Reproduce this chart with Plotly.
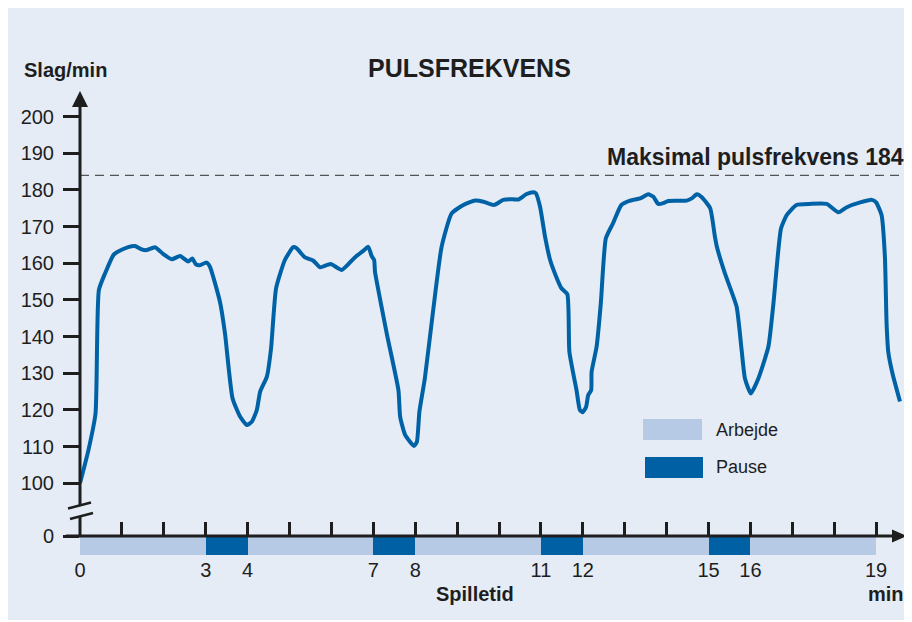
import plotly.graph_objects as go

# Pulse curve (minutes, beats per minute)
TIME_MIN = [0, 0.2, 0.37, 0.45, 0.6, 0.8, 0.91, 1.15, 1.31, 1.47, 1.59, 1.79, 1.99, 2.19,
            2.39, 2.58, 2.68, 2.76, 2.86, 3.02, 3.1, 3.34, 3.46, 3.64, 3.82, 3.98, 4.1,
            4.22, 4.3, 4.46, 4.56, 4.68, 4.89, 5.09, 5.17, 5.37, 5.57, 5.73, 5.98, 6.25,
            6.56, 6.76, 6.88, 6.96, 7.02, 7.04, 7.12, 7.32, 7.6, 7.64, 7.76, 7.97, 8.04,
            8.1, 8.23, 8.43, 8.63, 8.87, 9.15, 9.43, 9.63, 9.88, 10.1, 10.26, 10.46, 10.66,
            10.82, 10.88, 10.98, 11.1, 11.22, 11.36, 11.49, 11.63, 11.68, 11.85, 11.93,
            12.0, 12.08, 12.13, 12.2, 12.21, 12.33, 12.43, 12.55, 12.72, 12.92, 13.13,
            13.37, 13.56, 13.68, 13.8, 13.92, 14.04, 14.48, 14.6, 14.72, 14.84, 15.04,
            15.15, 15.2, 15.39, 15.67, 15.79, 15.87, 16.01, 16.19, 16.43, 16.55, 16.73,
            16.87, 17.1, 17.42, 17.82, 18.1, 18.3, 18.62, 18.9, 19.0, 19.13, 19.21, 19.25,
            19.29, 19.39, 19.57]
PULS = [100, 109, 119, 152.7, 157.3, 162.3, 163.2, 164.4, 164.7, 163.8, 163.6, 164.4, 162.5,
        161.1, 162, 160.5, 161.3, 159.8, 159.5, 160.2, 159.1, 149.5, 140.9, 123.2, 118.2,
        115.9, 116.8, 120, 125, 129.1, 136.8, 153.2, 160.9, 164.4, 164.1, 161.6, 160.7,
        158.9, 159.8, 158.2, 161.6, 163.4, 164.5, 162, 160.9, 157.7, 152.7, 140.9, 125.4,
        118.2, 113.2, 110.2, 111.3, 119.5, 128.6, 147.3, 164.5, 173.6, 175.9, 177.1, 176.8,
        175.9, 177.3, 177.5, 177.4, 178.9, 179.4, 179.1, 175.4, 167.2, 160.9, 156.5, 153.2,
        151.6, 135.9, 125.4, 120, 119.4, 120.9, 124.1, 125.4, 130.4, 137.3, 149.1, 166.8,
        170.9, 175.9, 177.1, 177.7, 178.8, 178.2, 176.2, 176.4, 177, 177.1, 177.7, 178.8,
        178, 175, 167.5, 164.5, 157.3, 148.2, 136.4, 128.6, 124.5, 128.6, 137.3, 149.1,
        169.5, 173.2, 175.9, 176.2, 176.2, 173.9, 175.3, 176.6, 177.3, 176.6, 173.2, 161.8,
        143.6, 135.9, 130, 122.3]

MAX_PULS = 184

# Work / pause phases along the playing time
PHASE_START = [0, 3, 4, 7, 8, 11, 12, 15, 16]
PHASE_END = [3, 4, 7, 8, 11, 12, 15, 16, 19]
PHASE_KIND = ["Arbejde", "Pause", "Arbejde", "Pause", "Arbejde", "Pause", "Arbejde", "Pause", "Arbejde"]

X_TICKS = list(range(0, 20))
X_TICK_LABELS = ["0", "", "", "3", "4", "", "", "7", "8", "", "", "11", "12", "", "", "15", "16", "", "", "19"]
Y_TICKS = [100, 110, 120, 130, 140, 150, 160, 170, 180, 190, 200]

# broken axis: the "0" baseline is drawn just under 100
Y_ZERO = 85.63
BAR_TOP, BAR_BOTTOM = 85.36, 80.45

FONT = "Liberation Sans, Arial, Helvetica, sans-serif"
INK = "#1e1e1e"
LINE_BLUE = "#0062a6"
BG = "#e5ecf6"
COLORS = {"Arbejde": "#b6cae6", "Pause": "#0060a4"}

# figure sits 8px in from the page corner; plot area spans screen px 80..912 / 60..582
W, H = 904, 612
L, R, T, B = 72, 0, 52, 38
PW, PH = W - L - R, H - T - B


def px(x):
    # screen pixel -> paper x
    return (x - 8 - L) / PW


def py(y):
    # screen pixel -> paper y
    return (H - B - (y - 8)) / PH


fig = go.Figure()

for kind in ["Arbejde", "Pause"]:
    idx = [i for i, k in enumerate(PHASE_KIND) if k == kind]
    fig.add_trace(go.Bar(
        y=[(BAR_TOP + BAR_BOTTOM) / 2] * len(idx),
        x=[PHASE_END[i] - PHASE_START[i] for i in idx],
        base=[PHASE_START[i] for i in idx],
        orientation="h",
        width=BAR_TOP - BAR_BOTTOM,
        marker=dict(color=COLORS[kind], line=dict(width=0)),
        showlegend=False,
        hoverinfo="skip",
    ))

fig.add_trace(go.Scatter(
    x=TIME_MIN, y=PULS, mode="lines",
    line=dict(color=LINE_BLUE, width=4, shape="spline", smoothing=0.5),
    showlegend=False,
))

shapes = [
    # max pulse line
    dict(type="line", xref="paper", yref="y", x0=0, x1=px(905), y0=MAX_PULS, y1=MAX_PULS,
         line=dict(color="#555555", width=1.3, dash="9px,6px"), layer="below"),
    # y axis (with break)
    dict(type="line", xref="paper", yref="paper", x0=0, x1=0, y0=py(505), y1=py(104),
         line=dict(color=INK, width=3)),
    dict(type="line", xref="paper", yref="paper", x0=0, x1=0, y0=py(537), y1=py(516),
         line=dict(color=INK, width=3)),
    dict(type="line", xref="paper", yref="paper", x0=px(68), x1=px(91), y0=py(508.5), y1=py(502.5),
         line=dict(color=INK, width=2.5)),
    dict(type="line", xref="paper", yref="paper", x0=px(70), x1=px(93), y0=py(519), y1=py(513),
         line=dict(color=INK, width=2.5)),
    dict(type="path", xref="paper", yref="paper",
         path=f"M {px(72)},{py(107)} L {px(80)},{py(91)} L {px(88)},{py(107)} Z",
         fillcolor=INK, line=dict(width=0)),
    # x axis
    dict(type="line", xref="paper", yref="y", x0=px(66), x1=px(894), y0=Y_ZERO, y1=Y_ZERO,
         line=dict(color=INK, width=3)),
    dict(type="path", xref="paper", yref="paper",
         path=f"M {px(892)},{py(529.5)} L {px(907)},{py(536)} L {px(892)},{py(542.5)} Z",
         fillcolor=INK, line=dict(width=0)),
    # legend swatches
    dict(type="rect", xref="paper", yref="paper", x0=px(643), x1=px(702), y0=py(440), y1=py(419),
         fillcolor=COLORS["Arbejde"], line=dict(width=0)),
    dict(type="rect", xref="paper", yref="paper", x0=px(645), x1=px(703), y0=py(478), y1=py(457),
         fillcolor=COLORS["Pause"], line=dict(width=0)),
]

annotations = [
    dict(text="<b>Slag/min</b>", x=px(22), y=py(70), xanchor="left", font=dict(size=20)),
    dict(text="<b>PULSFREKVENS</b>", x=px(469), y=py(68), xanchor="center", font=dict(size=25)),
    dict(text=f"<b>Maksimal pulsfrekvens {MAX_PULS}</b>", x=px(906), y=py(157), xanchor="right",
         font=dict(size=23)),
    dict(text="<b>Spilletid</b>", x=px(475), y=py(594), xanchor="center", font=dict(size=20)),
    dict(text="<b>min</b>", x=px(906), y=py(594), xanchor="right", font=dict(size=20)),
    dict(text="Arbejde", x=px(714), y=py(430), xanchor="left", font=dict(size=18)),
    dict(text="Pause", x=px(714), y=py(467), xanchor="left", font=dict(size=18)),
]
for a in annotations:
    a.update(xref="paper", yref="paper", yanchor="middle", showarrow=False)
    a["font"].update(family=FONT, color=INK)

fig.update_layout(
    width=W, height=H,
    margin=dict(l=L, r=R, t=T, b=B),
    paper_bgcolor=BG,
    plot_bgcolor="rgba(0,0,0,0)",
    barmode="overlay",
    bargap=0,
    font=dict(family=FONT, color=INK, size=20),
    shapes=shapes,
    annotations=annotations,
    xaxis=dict(
        range=[0, PW / 41.9], showgrid=False, zeroline=False, showline=False,
        anchor="free", position=py(536),
        tickmode="array", tickvals=X_TICKS, ticktext=X_TICK_LABELS,
        ticks="inside", ticklen=14, tickwidth=3, tickcolor=INK,
        ticklabelstandoff=20, tickfont=dict(size=20, color=INK),
    ),
    yaxis=dict(
        range=[73.09, 215.44], showgrid=False, zeroline=False, showline=False,
        tickmode="array", tickvals=[Y_ZERO] + Y_TICKS,
        ticktext=["0"] + [str(v) for v in Y_TICKS],
        ticks="outside", ticklen=16, tickwidth=3, tickcolor=INK,
        ticklabelstandoff=5, tickfont=dict(size=20, color=INK),
    ),
)

fig.write_html("out.html")
